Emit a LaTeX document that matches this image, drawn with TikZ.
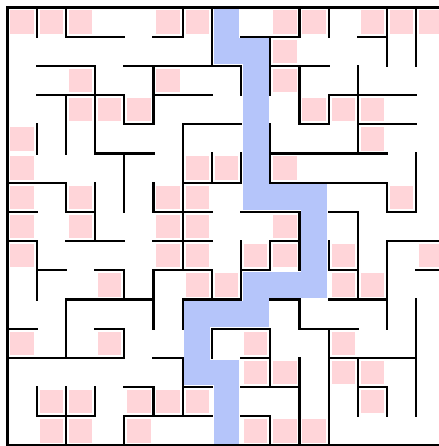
\documentclass[tikz,border=0pt]{standalone}
\definecolor{seenpink}{RGB}{255,213,217}
\definecolor{routeblue}{RGB}{181,197,250}

\begin{document}
\begin{tikzpicture}[
    wall/.style={line width=2pt, line cap=rect, black},
    seen/.style={fill=seenpink},
    route/.style={line width=0.88cm, draw=routeblue}
]
\useasboundingbox (-0.257,0.257) rectangle (14.777,-15.017);
\clip (-0.257,0.257) rectangle (14.777,-15.017);

\foreach \c/\r in {0/0,1/0,2/0,5/0,6/0,9/0,10/0,12/0,13/0,14/0,
    9/1,2/2,5/2,9/2,2/3,3/3,4/3,10/3,11/3,12/3,0/4,12/4,
    0/5,6/5,7/5,9/5,0/6,2/6,5/6,6/6,13/6,0/7,2/7,5/7,6/7,9/7,
    0/8,5/8,6/8,8/8,9/8,11/8,14/8,3/9,6/9,7/9,11/9,12/9,
    0/11,3/11,8/11,11/11,8/12,9/12,11/12,12/12,
    1/13,2/13,4/13,5/13,6/13,12/13,1/14,2/14,4/14,8/14,9/14,10/14}
    \fill[seen] (\c+0.1,-\r-0.1) rectangle (\c+0.9,-\r-0.9);

\draw[route] (7.5,0) -- (7.5,-1.5) -- (8.5,-1.5) -- (8.5,-6.5) -- (10.5,-6.5)
    -- (10.5,-9.5) -- (8.5,-9.5) -- (8.5,-10.5) -- (6.5,-10.5) -- (6.5,-12.5)
    -- (7.5,-12.5) -- (7.5,-15);

\foreach \j/\a/\b in {0/0/15,1/2/4,1/5/6,1/8/10,1/12/13,2/1/3,2/4/8,2/9/11,
    3/1/4,3/5/7,3/11/14,4/4/5,4/6/8,4/10/11,4/12/14,5/3/5,5/9/13,
    6/0/2,6/6/8,6/9/13,7/0/1,7/2/3,7/5/7,7/8/10,7/11/12,7/13/14,
    8/0/1,8/2/4,8/5/7,8/9/10,8/13/15,9/1/2,9/3/4,9/5/7,9/8/9,9/11/12,9/14/15,
    10/2/5,10/6/8,10/9/10,10/11/13,11/0/1,11/3/4,11/7/9,11/10/12,
    12/0/4,12/5/6,12/8/9,12/11/14,13/4/5,13/6/7,13/8/10,13/12/13,
    14/1/3,14/4/7,14/8/9,15/0/15}
    \draw[wall] (\a,-\j) -- (\b,-\j);

\foreach \i/\a/\b in {0/0/15,1/0/1,1/4/5,1/8/10,1/13/14,2/0/1,2/3/5,2/6/7,2/10/12,2/13/15,
    3/2/5,3/6/8,3/13/14,4/3/4,4/5/7,4/9/10,4/11/12,4/14/15,
    5/2/4,5/6/7,5/9/11,5/13/14,6/0/1,6/4/9,6/10/11,6/12/14,
    7/0/2,7/5/6,7/9/10,7/11/12,8/2/3,8/5/6,8/8/10,
    9/1/3,9/4/6,9/8/9,9/11/13,9/14/15,10/0/1,10/2/4,10/7/9,10/10/11,10/12/15,
    11/0/1,11/3/4,11/8/9,11/11/15,12/2/5,12/7/10,12/12/14,
    13/0/2,13/6/7,13/8/11,13/13/14,14/0/2,14/5/7,14/10/14}
    \draw[wall] (\i,-\a) -- (\i,-\b);
\end{tikzpicture}
\end{document}
